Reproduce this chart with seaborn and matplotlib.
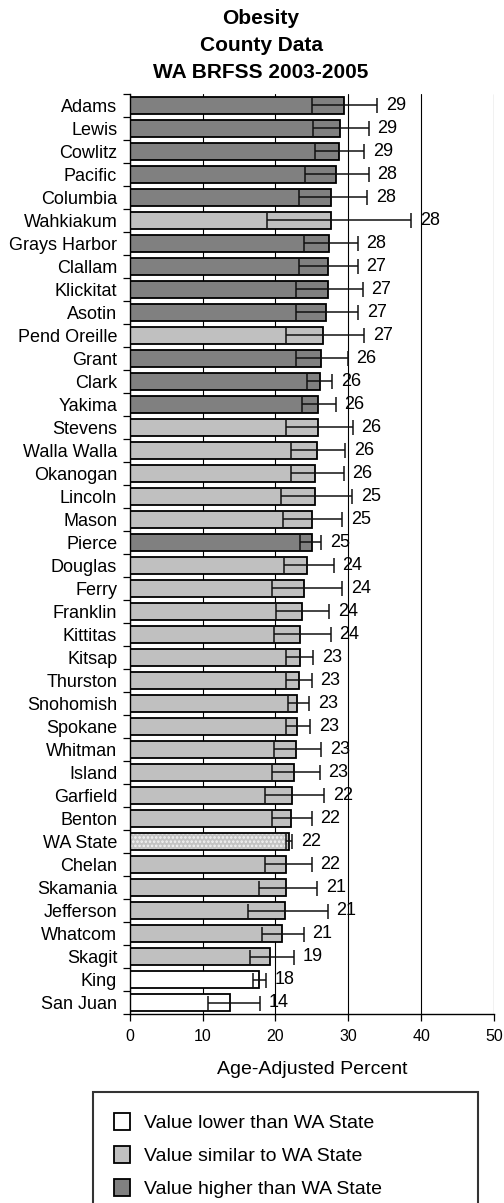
import matplotlib
matplotlib.use("Agg")
import matplotlib.pyplot as plt
from matplotlib.patches import Patch, Rectangle
from matplotlib.ticker import FixedLocator
import seaborn as sns
import pandas as pd

# Werte
counties = ['Adams', 'Lewis', 'Cowlitz', 'Pacific', 'Columbia', 'Wahkiakum', 'Grays Harbor',
            'Clallam', 'Klickitat', 'Asotin', 'Pend Oreille', 'Grant', 'Clark', 'Yakima',
            'Stevens', 'Walla Walla', 'Okanogan', 'Lincoln', 'Mason', 'Pierce', 'Douglas',
            'Ferry', 'Franklin', 'Kittitas', 'Kitsap', 'Thurston', 'Snohomish', 'Spokane',
            'Whitman', 'Island', 'Garfield', 'Benton', 'WA State', 'Chelan', 'Skamania',
            'Jefferson', 'Whatcom', 'Skagit', 'King', 'San Juan']
values = [29.4, 28.9, 28.7, 28.3, 27.6, 27.6, 27.4, 27.2, 27.2, 27.0, 26.5, 26.3, 26.1, 25.9,
          25.9, 25.7, 25.4, 25.4, 25.0, 25.0, 24.3, 23.9, 23.7, 23.4, 23.4, 23.2, 23.0, 23.0,
          22.8, 22.6, 22.3, 22.1, 21.9, 21.5, 21.5, 21.3, 20.9, 19.3, 17.7, 13.8]
ci_low = [25.0, 25.2, 25.5, 24.1, 23.2, 18.8, 23.9, 23.2, 22.8, 22.8, 21.4, 22.8, 24.3, 23.7,
          21.4, 22.1, 22.1, 20.8, 21.0, 23.4, 21.2, 19.5, 20.1, 19.8, 21.4, 21.4, 21.7, 21.4,
          19.8, 19.5, 18.6, 19.5, 21.5, 18.6, 17.7, 16.2, 18.2, 16.5, 16.9, 10.7]
ci_high = [34.0, 32.8, 32.2, 32.8, 32.6, 38.6, 31.3, 31.3, 32.0, 31.4, 32.2, 29.9, 27.8, 28.3,
           30.6, 29.6, 29.4, 30.5, 29.2, 26.3, 28.0, 29.2, 27.4, 27.6, 25.2, 25.0, 24.6, 24.8,
           26.3, 26.1, 26.7, 25.0, 22.3, 25.0, 25.7, 27.2, 23.9, 22.6, 18.7, 17.9]
labels = ['29', '29', '29', '28', '28', '28', '28', '27', '27', '27', '27', '26', '26', '26',
          '26', '26', '26', '25', '25', '25', '24', '24', '24', '24', '23', '23', '23', '23',
          '23', '23', '22', '22', '22', '22', '21', '21', '21', '19', '18', '14']
groups = ['higher'] * 5 + ['similar'] + ['higher'] * 5 + ['similar'] + ['higher'] * 2 \
    + ['similar'] * 5 + ['higher'] + ['similar'] * 12 + ['state'] + ['similar'] * 5 \
    + ['lower'] * 2
groups[10] = 'similar'  # Pend Oreille
groups[11] = 'higher'   # Grant

df = pd.DataFrame({'County': counties, 'Value': values, 'Low': ci_low,
                   'High': ci_high, 'Label': labels, 'Group': groups})

palette = {'lower': '#ffffff', 'similar': '#c0c0c0', 'higher': '#808080', 'state': '#c4c4c4'}

sns.set_style('white')
plt.rcParams['font.family'] = ['Liberation Sans', 'DejaVu Sans']
plt.rcParams['hatch.linewidth'] = 1.2
for k in ['text.color', 'axes.labelcolor', 'xtick.color', 'ytick.color']:
    plt.rcParams[k] = 'black'

fig = plt.figure(figsize=(5.04, 12.03), dpi=100)
ax = fig.add_axes([0.2574, 0.1571, 0.7226, 0.7648])

sns.barplot(data=df, x='Value', y='County', hue='Group', palette=palette, dodge=False,
            orient='h', width=0.7, edgecolor='black', linewidth=1.3, legend=False, ax=ax,
            zorder=2)

# WA State gepunktet
state_idx = counties.index('WA State')
for p in ax.patches:
    cy = p.get_y() + p.get_height() / 2
    if abs(cy - state_idx) < 0.01 and p.get_width() > 0:
        p.set_hatch('....')
        p.set_edgecolor('#f4f4f4')
        p.set_linewidth(0)
        ax.add_patch(Rectangle((p.get_x(), p.get_y()), p.get_width(), p.get_height(),
                               fill=False, edgecolor='black', linewidth=1.3, zorder=3))

pos = list(range(len(counties)))
ax.errorbar(df['Value'], pos, xerr=[df['Value'] - df['Low'], df['High'] - df['Value']],
            fmt='none', ecolor='#111111', elinewidth=1.1, capsize=5.4, capthick=1.1, zorder=4)

for i, row in df.iterrows():
    ax.text(row['High'] + 1.2, i, row['Label'], va='center', ha='left', fontsize=13,
            color='black')

ax.set_xlim(0, 50)
ax.set_ylim(len(counties) - 0.5, -0.5)
ax.set_xticks([0, 10, 20, 30, 40, 50])
ax.xaxis.grid(True, color='black', linewidth=0.8, zorder=0)
ax.set_axisbelow(True)
ax.yaxis.set_minor_locator(FixedLocator([i - 0.5 for i in range(len(counties) + 1)]))
ax.tick_params(axis='y', which='major', length=0, labelsize=13, pad=9)
ax.tick_params(axis='y', which='minor', length=5, width=0.9, direction='out', color='black',
               left=True)
ax.tick_params(axis='x', length=5, width=0.9, direction='out', color='black', bottom=True,
               labelsize=11.5, pad=6)
for s in ['top', 'right']:
    ax.spines[s].set_visible(False)
for s in ['left', 'bottom']:
    ax.spines[s].set_color('black')
    ax.spines[s].set_linewidth(1.0)

ax.set_ylabel('')
ax.set_xlabel('Age-Adjusted Percent', fontsize=14, labelpad=12)

fig.text(0.518, 0.985, 'Obesity', ha='center', va='center', fontsize=15, fontweight='bold')
fig.text(0.518, 0.9625, 'County Data', ha='center', va='center', fontsize=15,
         fontweight='bold')
fig.text(0.518, 0.940, 'WA BRFSS 2003-2005', ha='center', va='center', fontsize=15,
         fontweight='bold')

handles = [Patch(facecolor='#ffffff', edgecolor='black', linewidth=1.3),
           Patch(facecolor='#c0c0c0', edgecolor='black', linewidth=1.3),
           Patch(facecolor='#808080', edgecolor='black', linewidth=1.3)]
leg = fig.legend(handles, ['Value lower than WA State', 'Value similar to WA State',
                           'Value higher than WA State'],
                 loc='upper left', bbox_to_anchor=(93 / 504, 1 - 1092 / 1203, 385 / 504, 0.0),
                 mode='expand', fontsize=14, frameon=True, fancybox=False, edgecolor='black',
                 handlelength=0.8, handleheight=0.95, handletextpad=0.7, labelspacing=0.7,
                 borderpad=1.1, borderaxespad=0)
leg.get_frame().set_linewidth(1.5)

fig.savefig('out.png', dpi=100)
